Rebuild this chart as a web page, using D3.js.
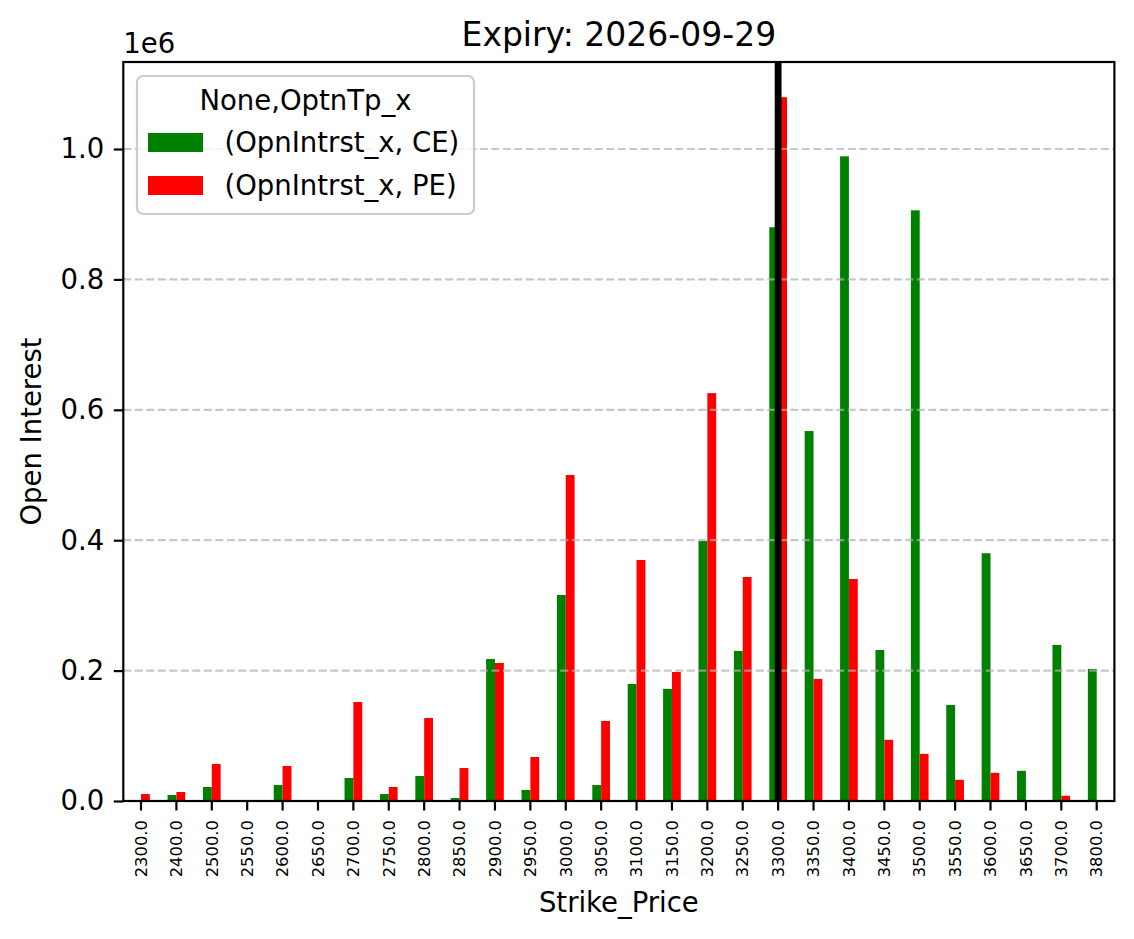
<!DOCTYPE html>
<html>
<head>
<meta charset="utf-8">
<script src="https://cdn.jsdelivr.net/npm/d3@7"></script>
<style>
  body { margin: 0; background: white; }
  text { font-family: "DejaVu Sans", sans-serif; fill: black; }
</style>
</head>
<body>
<svg id="chart" width="1134" height="939"></svg>
<script>
// strike prices and open interest per option type
const strikes = ["2300.0", "2400.0", "2500.0", "2550.0", "2600.0", "2650.0", "2700.0",
	"2750.0", "2800.0", "2850.0", "2900.0", "2950.0", "3000.0", "3050.0", "3100.0",
	"3150.0", "3200.0", "3250.0", "3300.0", "3350.0", "3400.0", "3450.0", "3500.0",
	"3550.0", "3600.0", "3650.0", "3700.0", "3800.0"];
const ceOI = [0, 9200, 21500, 0, 24500, 0, 35300, 10700, 38300, 4600, 217800, 16900,
	316000, 24500, 179600, 172000, 399000, 230200, 880000, 567400, 988800, 231700,
	906000, 147400, 380000, 46300, 239400, 202600];
const peOI = [10700, 13800, 56700, 0, 53700, 0, 151800, 21500, 127300, 50600, 211700,
	67500, 500000, 122700, 369700, 197900, 625600, 343600, 1079500, 187300, 340500,
	93800, 72300, 32500, 43200, 0, 8000, 0];
const yTicks = [0, 200000, 400000, 600000, 800000, 1000000];
const seriesNames = ["(OpnIntrst_x, CE)", "(OpnIntrst_x, PE)"];
const seriesColors = ["green", "red"];
const spotStrike = "3300.0";

const svg = d3.select("#chart");
const plot = { left: 123.3, right: 1114.4, top: 62, bottom: 801 };
const fs = "27.5px";

let xscale = d3.scaleBand()
	.domain(strikes)
	.range([plot.left, plot.right])
	.padding(0);
let ymax = d3.max(ceOI.concat(peOI)) * 1.05;
let yscale = d3.scaleLinear()
	.domain([0, ymax])
	.range([plot.bottom, plot.top]);

let bw = xscale.bandwidth();
let barW = bw * 0.25;

// bars
let rows = strikes.map((s, i) => ({ strike: s, vals: [ceOI[i], peOI[i]] }));
seriesColors.forEach((col, k) => {
	svg.append("g")
		.selectAll("rect")
		.data(rows)
		.join("rect")
		.attr("x", d => xscale(d.strike) + bw / 2 - barW + k * barW)
		.attr("y", d => yscale(d.vals[k]))
		.attr("width", barW)
		.attr("height", d => yscale(0) - yscale(d.vals[k]))
		.attr("fill", col);
});

// dashed grid on top of bars
svg.append("g")
	.selectAll("line")
	.data(yTicks)
	.join("line")
	.attr("x1", plot.left)
	.attr("x2", plot.right)
	.attr("y1", d => yscale(d))
	.attr("y2", d => yscale(d))
	.attr("stroke", "#b0b0b0")
	.attr("stroke-opacity", 0.7)
	.attr("stroke-width", 2.2)
	.attr("stroke-dasharray", "8,3.5");

// spot line
svg.append("line")
	.attr("x1", xscale(spotStrike) + bw / 2)
	.attr("x2", xscale(spotStrike) + bw / 2)
	.attr("y1", plot.top)
	.attr("y2", plot.bottom)
	.attr("stroke", "black")
	.attr("stroke-width", 6.8);

// axes
let xAxis = svg.append("g")
	.attr("transform", `translate(0,${plot.bottom})`)
	.call(d3.axisBottom(xscale).tickSize(9.5).tickPadding(0));
xAxis.selectAll("text")
	.attr("transform", "rotate(-90)")
	.attr("x", -19)
	.attr("y", 0)
	.attr("dy", "0.35em")
	.style("text-anchor", "end")
	.style("font-size", "16.4px")
	.style("font-family", "DejaVu Sans");

let yAxis = svg.append("g")
	.attr("transform", `translate(${plot.left},0)`)
	.call(d3.axisLeft(yscale).tickValues(yTicks).tickSize(9.5).tickPadding(9.5)
		.tickFormat(d => (d / 1e6).toFixed(1)));
yAxis.selectAll("text")
	.style("font-size", fs)
	.style("font-family", "DejaVu Sans");

svg.selectAll(".domain").remove();
svg.selectAll(".tick line").attr("stroke", "black").attr("stroke-width", 2.2);

// frame
svg.append("rect")
	.attr("x", plot.left)
	.attr("y", plot.top)
	.attr("width", plot.right - plot.left)
	.attr("height", plot.bottom - plot.top)
	.attr("fill", "none")
	.attr("stroke", "black")
	.attr("stroke-width", 2.2);

// offset text, title, labels
svg.append("text")
	.attr("x", plot.left)
	.attr("y", 53)
	.style("font-size", fs)
	.text("1e6");
svg.append("text")
	.attr("x", (plot.left + plot.right) / 2)
	.attr("y", 46)
	.style("text-anchor", "middle")
	.style("font-size", "33px")
	.text("Expiry: 2026-09-29");
svg.append("text")
	.attr("x", (plot.left + plot.right) / 2)
	.attr("y", 912)
	.style("text-anchor", "middle")
	.style("font-size", fs)
	.text("Strike_Price");
svg.append("text")
	.attr("transform", `translate(41,${(plot.top + plot.bottom) / 2}) rotate(-90)`)
	.style("text-anchor", "middle")
	.style("font-size", fs)
	.text("Open Interest");

// legend
let legend = svg.append("g").attr("class", "legend");
legend.append("rect")
	.attr("x", 137)
	.attr("y", 76)
	.attr("width", 337)
	.attr("height", 138)
	.attr("rx", 6)
	.attr("fill", "white")
	.attr("fill-opacity", 0.8)
	.attr("stroke", "#cccccc")
	.attr("stroke-width", 2.2);
legend.append("text")
	.attr("x", 305.5)
	.attr("y", 110)
	.style("text-anchor", "middle")
	.style("font-size", fs)
	.text("None,OptnTp_x");
seriesNames.forEach((name, k) => {
	legend.append("rect")
		.attr("x", 148)
		.attr("y", 133 + k * 43)
		.attr("width", 55)
		.attr("height", 19)
		.attr("fill", seriesColors[k]);
	legend.append("text")
		.attr("x", 224.5)
		.attr("y", 142.5 + k * 43)
		.attr("dy", "0.35em")
		.style("font-size", fs)
		.text(name);
});
</script>
</body>
</html>
